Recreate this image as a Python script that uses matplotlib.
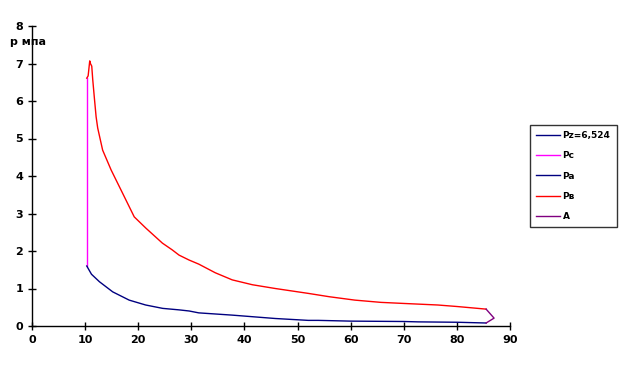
import matplotlib
matplotlib.use("Agg")
import matplotlib.pyplot as plt

# Data
pz_x = [10.31, 10.31]
pz_y = [6.524, 6.524]

pc_x = [10.31, 10.31]
pc_y = [1.6, 6.61]

pa_x = [10.31, 11.2, 12.7, 15.2, 18.3, 21.4, 24.6, 27.7, 29.6, 31.4, 37.7, 45.8,
        52.0, 53.9, 60.0, 70.0, 72.7, 80.0, 85.5]
pa_y = [1.6, 1.38, 1.18, 0.91, 0.69, 0.56, 0.47, 0.43, 0.40, 0.35, 0.29, 0.20,
        0.15, 0.15, 0.13, 0.12, 0.11, 0.10, 0.08]

pv_x = [10.31, 10.57, 10.87, 11.0, 11.25, 11.43, 11.75, 12.07, 12.37, 13.3, 14.9,
        17.06, 19.25, 21.44, 24.55, 26.4, 27.69, 29.56, 31.4, 34.5, 37.7, 41.5,
        45.8, 52.0, 56.0, 60.8, 65.7, 70.2, 76.4, 80.0, 85.5]
pv_y = [6.61, 6.67, 7.07, 7.0, 6.93, 6.58, 6.07, 5.58, 5.28, 4.69, 4.16,
        3.54, 2.91, 2.61, 2.21, 2.03, 1.89, 1.76, 1.65, 1.42, 1.23, 1.10,
        1.0, 0.87, 0.78, 0.69, 0.63, 0.60, 0.56, 0.52, 0.45]

a_x = [85.5, 87.0, 85.5]
a_y = [0.45, 0.21, 0.08]

x_ticks = [0, 10, 20, 30, 40, 50, 60, 70, 80, 90]
y_ticks = [0, 1, 2, 3, 4, 5, 6, 7, 8]

fig = plt.figure(figsize=(6.27, 3.71), dpi=100)
ax = fig.add_axes([32/627, 45/371, (510-32)/627, (326-26)/371])

ax.plot(pz_x, pz_y, color="#000080", lw=1, label="Pz=6,524")
ax.plot(pc_x, pc_y, color="#FF00FF", lw=1, label="Pc")
ax.plot(pa_x, pa_y, color="#000080", lw=1, label="Pa")
ax.plot(pv_x, pv_y, color="#FF0000", lw=1, label="Pв")
ax.plot(a_x, a_y, color="#800080", lw=1, label="A")

ax.set_xlim(0, 90)
ax.set_ylim(0, 8)
ax.set_xticks(x_ticks)
ax.set_yticks(y_ticks)
for s in ["top", "right"]:
    ax.spines[s].set_visible(False)
for s in ["left", "bottom"]:
    ax.spines[s].set_linewidth(1)
ax.tick_params(direction="inout", length=6, width=1, labelsize=8)
for lab in ax.get_xticklabels() + ax.get_yticklabels():
    lab.set_fontweight("bold")

fig.text(10/627, 1 - 42/371, "р мпа", fontsize=8, fontweight="bold", va="center", ha="left")

leg = ax.legend(loc="center left", bbox_to_anchor=(530/627, 1 - 176/371),
                bbox_transform=fig.transFigure, frameon=True, fancybox=False,
                borderaxespad=0,
                prop={"size": 6.5, "weight": "bold"}, handlelength=2.6,
                labelspacing=1.25, borderpad=0.7, handletextpad=0.3)
leg.get_frame().set_edgecolor("black")
leg.get_frame().set_linewidth(1)

fig.savefig("out.png", dpi=100)
